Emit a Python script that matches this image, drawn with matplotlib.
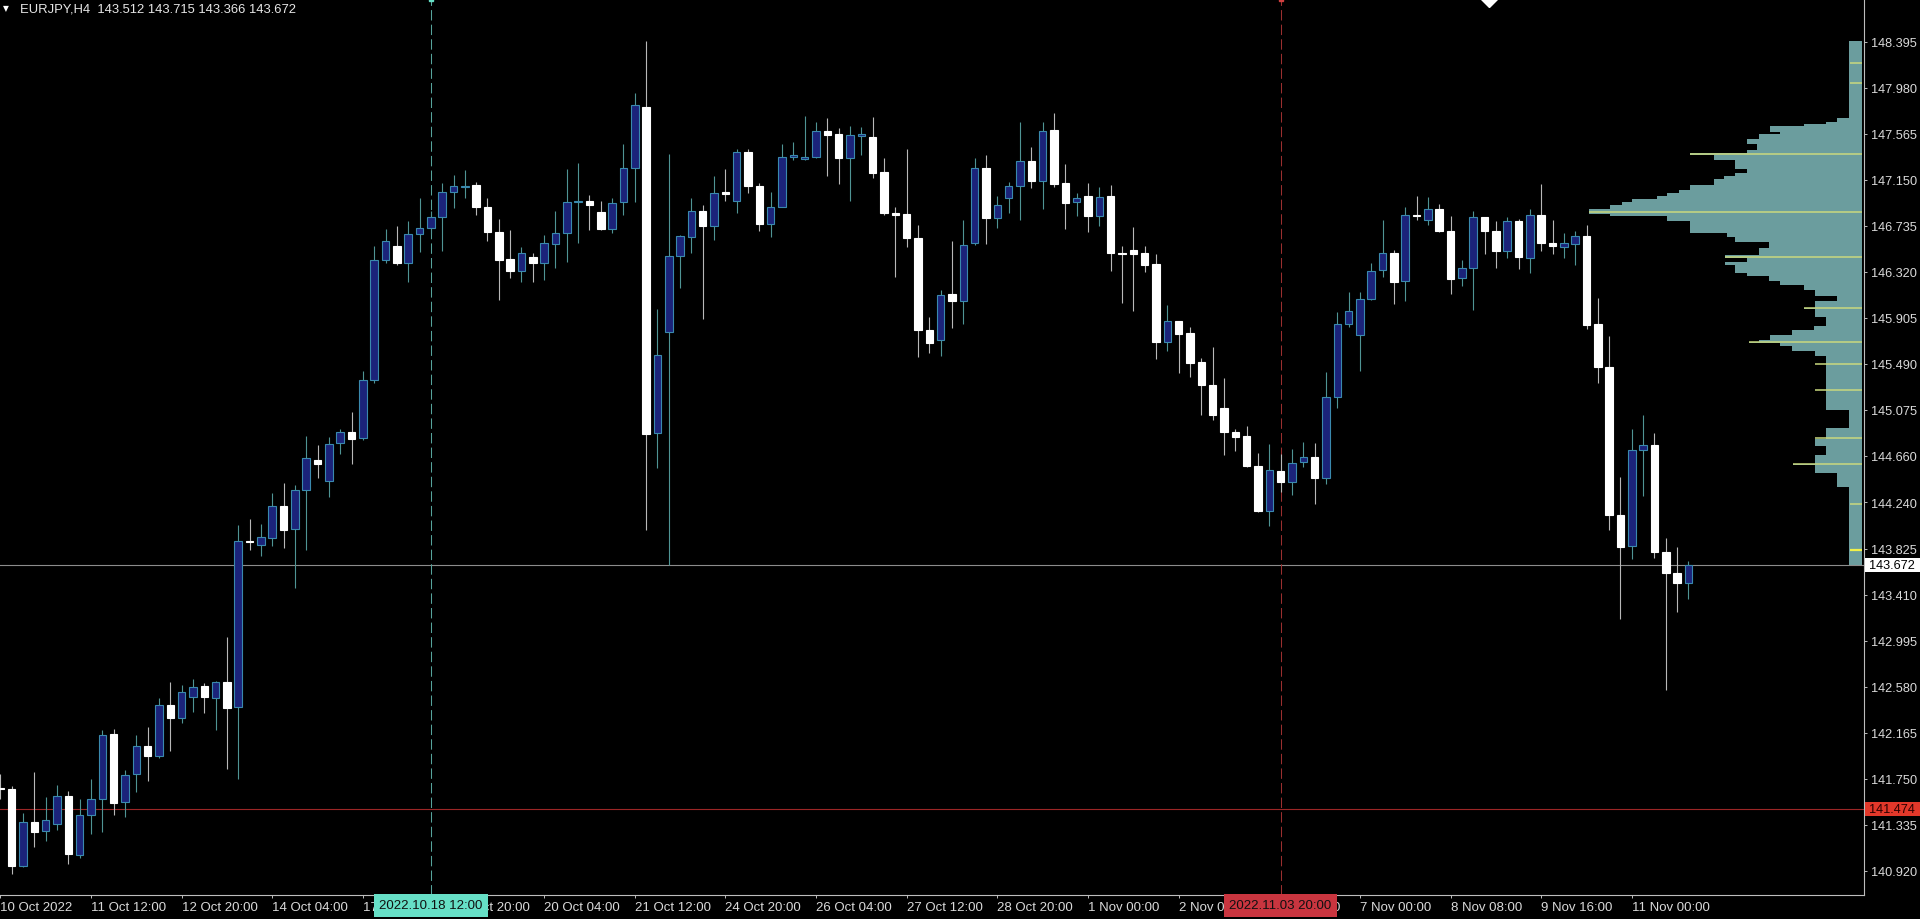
import matplotlib
matplotlib.use("Agg")
import matplotlib.pyplot as plt
import numpy as np
from matplotlib.patches import Rectangle
from matplotlib.transforms import blended_transform_factory

plt.rcParams['font.family'] = ['Liberation Sans', 'DejaVu Sans']

# ---------------- data ----------------
symbol = "EURJPY,H4"

opens = [141.67, 141.657, 140.965, 141.362, 141.275, 141.34, 141.59, 141.06, 141.42, 141.57,
         142.15, 141.54, 141.79, 142.04, 141.95, 142.41, 142.30, 142.49, 142.588, 142.48,
         142.625, 142.40, 143.89, 143.86, 143.92, 144.21, 144.00, 144.35, 144.623, 144.437,
         144.774, 144.873, 144.82, 145.345, 146.427, 146.55, 146.40, 146.66, 146.713, 146.817,
         147.037, 147.085, 147.103, 146.902, 146.676, 146.436, 146.325, 146.451, 146.397, 146.57,
         146.667, 146.947, 146.961, 146.857, 146.706, 146.951, 147.259, 147.808, 144.865, 145.776,
         146.465, 146.633, 146.868, 146.733, 147.044, 146.958, 147.403, 147.098, 146.747, 146.907,
         147.353, 147.336, 147.353, 147.594, 147.56, 147.349, 147.549, 147.537, 147.219, 146.848,
         146.84, 146.629, 145.796, 145.702, 146.121, 146.054, 146.583, 147.259, 146.807, 146.988,
         147.091, 147.322, 147.136, 147.599, 147.118, 146.947, 147.006, 146.821, 147.006, 146.494,
         146.517, 146.487, 146.39, 145.684, 145.879, 145.766, 145.504, 145.302, 145.089, 144.873,
         144.837, 144.567, 144.161, 144.521, 144.427, 144.602, 144.647, 144.461, 145.194, 145.85,
         145.753, 146.075, 146.336, 146.49, 146.235, 146.832, 146.79, 146.89, 146.691, 146.261,
         146.358, 146.81, 146.69, 146.507, 146.777, 146.444, 146.828, 146.578, 146.547, 146.575,
         146.641, 145.853, 145.466, 144.123, 143.849, 144.712, 144.758, 143.794, 143.60, 143.512]
highs = [141.79, 141.68, 141.44, 141.81, 141.58, 141.69, 141.64, 141.57, 141.75, 142.19,
         142.20, 141.83, 142.14, 142.22, 142.48, 142.62, 142.59, 142.65, 142.61, 142.63,
         143.03, 144.037, 144.09, 144.05, 144.33, 144.416, 144.40, 144.84, 144.76, 144.83,
         144.90, 145.06, 145.43, 146.55, 146.706, 146.73, 146.776, 146.99, 146.87, 147.118,
         147.193, 147.24, 147.127, 146.983, 146.80, 146.697, 146.541, 146.487, 146.652, 146.866,
         147.247, 147.30, 147.015, 146.956, 146.986, 147.47, 147.929, 148.40, 145.986, 147.383,
         146.656, 146.985, 146.924, 147.186, 147.249, 147.427, 147.427, 147.118, 147.041, 147.47,
         147.493, 147.728, 147.667, 147.704, 147.62, 147.634, 147.628, 147.712, 147.349, 146.901,
         147.427, 146.74, 145.91, 146.154, 146.60, 146.79, 147.349, 147.37, 147.008, 147.127,
         147.668, 147.448, 147.668, 147.752, 147.292, 147.028, 147.118, 147.082, 147.106, 146.556,
         146.727, 146.556, 146.48, 146.024, 145.88, 145.82, 145.54, 145.639, 145.36, 144.90,
         144.927, 144.686, 144.767, 144.677, 144.722, 144.788, 144.777, 145.414, 145.96, 146.135,
         146.135, 146.397, 146.79, 146.52, 146.907, 147.0, 146.992, 146.93, 146.823, 146.424,
         146.867, 146.817, 146.777, 146.818, 146.80, 146.884, 147.108, 146.79, 146.668, 146.686,
         146.738, 146.081, 145.743, 144.468, 144.906, 145.025, 144.864, 143.92, 143.835, 143.715]
lows = [141.57, 140.89, 140.95, 141.13, 141.19, 141.29, 140.98, 141.03, 141.25, 141.27,
        141.42, 141.40, 141.63, 141.73, 141.94, 141.995, 142.25, 142.35, 142.34, 142.19,
        141.84, 141.747, 143.815, 143.755, 143.85, 143.83, 143.466, 143.81, 144.46, 144.29,
        144.68, 144.59, 144.80, 145.315, 146.397, 146.384, 146.225, 146.50, 146.66, 146.51,
        146.893, 146.986, 146.835, 146.60, 146.066, 146.26, 146.23, 146.23, 146.246, 146.352,
        146.41, 146.577, 146.697, 146.697, 146.667, 146.834, 146.951, 143.995, 144.554, 143.677,
        146.178, 146.489, 145.896, 146.606, 146.958, 146.848, 147.035, 146.69, 146.63, 146.90,
        147.326, 147.326, 147.343, 147.186, 147.108, 146.958, 147.376, 147.169, 146.834, 146.271,
        146.546, 145.552, 145.585, 145.558, 145.813, 145.853, 146.566, 146.573, 146.713, 146.848,
        146.79, 147.076, 146.886, 147.082, 146.706, 146.821, 146.682, 146.73, 146.33, 146.036,
        145.964, 146.321, 145.534, 145.603, 145.408, 145.369, 145.029, 144.986, 144.668, 144.707,
        144.558, 144.152, 144.026, 144.337, 144.307, 144.558, 144.227, 144.407, 145.089, 145.82,
        145.429, 146.066, 146.27, 146.03, 146.054, 146.79, 146.742, 146.675, 146.118, 146.19,
        145.977, 146.477, 146.358, 146.441, 146.344, 146.312, 146.512, 146.485, 146.445, 146.384,
        145.804, 145.315, 143.988, 143.19, 143.727, 144.30, 143.737, 142.545, 143.255, 143.366]
closes = [141.66, 140.962, 141.356, 141.272, 141.38, 141.59, 141.07, 141.42, 141.57, 142.146,
          141.53, 141.78, 142.04, 141.95, 142.41, 142.30, 142.53, 142.58, 142.484, 142.625,
          142.39, 143.89, 143.885, 143.926, 144.206, 143.99, 144.35, 144.64, 144.587, 144.767,
          144.873, 144.81, 145.345, 146.427, 146.60, 146.40, 146.66, 146.713, 146.817, 147.037,
          147.09, 147.094, 146.90, 146.676, 146.43, 146.325, 146.487, 146.397, 146.577, 146.667,
          146.947, 146.956, 146.922, 146.706, 146.938, 147.259, 147.821, 144.858, 145.568, 146.465,
          146.639, 146.868, 146.733, 147.032, 147.026, 147.403, 147.092, 146.747, 146.907, 147.353,
          147.37, 147.353, 147.594, 147.554, 147.349, 147.55, 147.563, 147.209, 146.848, 146.83,
          146.623, 145.796, 145.675, 146.114, 146.054, 146.566, 147.259, 146.807, 146.924, 147.091,
          147.322, 147.136, 147.592, 147.112, 146.94, 146.988, 146.821, 146.997, 146.49, 146.485,
          146.481, 146.384, 145.684, 145.879, 145.759, 145.498, 145.30, 145.029, 144.878, 144.828,
          144.567, 144.161, 144.533, 144.422, 144.593, 144.647, 144.461, 145.189, 145.85, 145.964,
          146.075, 146.33, 146.49, 146.226, 146.835, 146.821, 146.886, 146.685, 146.258, 146.358,
          146.81, 146.684, 146.507, 146.774, 146.45, 146.834, 146.578, 146.557, 146.578, 146.641,
          145.839, 145.466, 144.123, 143.843, 144.712, 144.758, 143.794, 143.60, 143.512, 143.672]

x_tick_bars = [0, 8, 16, 24, 32, 40, 48, 56, 64, 72, 80, 88, 96, 104, 112, 120, 128, 136, 144]
x_tick_labels = ["10 Oct 2022", "11 Oct 12:00", "12 Oct 20:00", "14 Oct 04:00", "17 Oct 12:00",
                 "18 Oct 20:00", "20 Oct 04:00", "21 Oct 12:00", "24 Oct 20:00", "26 Oct 04:00",
                 "27 Oct 12:00", "28 Oct 20:00", "1 Nov 00:00", "2 Nov 08:00", "3 Nov 16:00",
                 "7 Nov 00:00", "8 Nov 08:00", "9 Nov 16:00", "11 Nov 00:00"]
y_tick_labels = ["148.395", "147.980", "147.565", "147.150", "146.735", "146.320", "145.905",
                 "145.490", "145.075", "144.660", "144.240", "143.825", "143.410", "142.995",
                 "142.580", "142.165", "141.750", "141.335", "140.920"]

# volume profile (price edges, top to bottom) and volume of each slice
vp_edges = [148.400, 147.705, 147.672, 147.656, 147.634, 147.585, 147.563, 147.521, 147.473, 147.421,
            147.389, 147.376, 147.328, 147.247, 147.215, 147.183, 147.157, 147.102, 147.061, 147.028,
            147.003, 146.980, 146.951, 146.919, 146.887, 146.845, 146.822, 146.780, 146.668, 146.635,
            146.587, 146.539, 146.474, 146.442, 146.410, 146.378, 146.313, 146.281, 146.233, 146.201,
            146.152, 146.104, 146.056, 145.998, 145.985, 145.911, 145.830, 145.798, 145.750, 145.701,
            145.689, 145.676, 145.653, 145.605, 145.557, 145.073, 144.912, 144.816, 144.751, 144.671,
            144.590, 144.574, 144.510, 144.381, 143.679]
vp_volume = [13, 25, 36, 58, 92, 82, 103, 115, 105, 115,
             172, 148, 127, 115, 127, 138, 148, 172, 183, 195,
             205, 230, 240, 252, 273, 252, 195, 172, 135, 127,
             93, 103, 137, 115, 137, 127, 115, 93, 82, 58,
             47, 25, 47, 58, 47, 36, 48, 70, 92, 103,
             113, 82, 70, 47, 36, 13, 36, 47, 36, 47,
             69, 47, 25, 13]
vp_line_prices = [148.207, 148.026, 147.382, 146.860, 146.454, 145.994, 145.687, 145.492,
                  145.257, 144.825, 144.586, 144.226]
vp_line_volume = [12, 12, 172, 273, 137, 58, 113, 47, 47, 47, 69, 12]
vp_mark_price = 143.815
vp_mark_volume = 12

alert_price = 141.474
cyan_bar, cyan_label = 38, "2022.10.18 12:00"
red_bar, red_label = 113, "2022.11.03 20:00"
top_marker_bar = 131.4

# ---------------- layout ----------------
W, H = 1920, 920
PLOT_R, PLOT_B = 1864, 896          # plot area right edge / bottom (px)
BAR_PX = 11.33                      # px per bar
PX_PER_PRICE = 110.9
TOP_PRICE = 148.395 + 42.7 / PX_PER_PRICE

fig = plt.figure(figsize=(W / 100, H / 100), dpi=100, facecolor='black')
ax = fig.add_axes([0, (H - PLOT_B) / H, PLOT_R / W, PLOT_B / H])
ax.set_facecolor('black')
ax.set_xlim(-0.3 / BAR_PX, (PLOT_R - 0.3) / BAR_PX)
ax.set_ylim(TOP_PRICE - PLOT_B / PX_PER_PRICE, TOP_PRICE)

axis_col = '#bdbdbd'
text_col = '#dadada'
FS = 9.2
FSX = 9.5

for s in ['top', 'left']:
    ax.spines[s].set_visible(False)
for s in ['right', 'bottom']:
    ax.spines[s].set_color(axis_col)
    ax.spines[s].set_linewidth(0.8)

ax.yaxis.tick_right()
ax.set_yticks([float(v) for v in y_tick_labels])
ax.set_yticklabels(y_tick_labels)
ax.tick_params(axis='y', colors=axis_col, labelcolor=text_col, labelsize=FS,
               length=2.2, width=0.7, pad=2.5)
ax.set_xticks(x_tick_bars)
ax.set_xticklabels(x_tick_labels)
for lbl in ax.get_xticklabels():
    lbl.set_horizontalalignment('left')
ax.tick_params(axis='x', colors=axis_col, labelcolor=text_col, labelsize=FSX,
               length=2.2, width=0.7, pad=2.3)

# horizontal reference lines
last_price = closes[-1]
ax.axhline(last_price, color='#8c8c8c', lw=0.8, zorder=1)
ax.axhline(alert_price, color='#9c2626', lw=0.8, zorder=1)

# vertical dashed lines
ax.axvline(cyan_bar, color='#56a39b', lw=0.75, ls=(0, (10, 4)), zorder=1)
ax.axvline(red_bar, color='#9a2f2f', lw=0.75, ls=(0, (10, 4)), zorder=1)

# ---------------- candles ----------------
o = np.array(opens); h = np.array(highs); l = np.array(lows); c = np.array(closes)
idx = np.arange(len(o))
bull = c >= o
wick_cols = np.where(bull, '#4f9494', '#b8b8b8')
ax.vlines(idx, l, h, colors=wick_cols, lw=0.8, zorder=2)

body_w = 0.66
bottoms = np.minimum(o, c)
heights = np.maximum(np.abs(c - o), 0.004)
ax.bar(idx[bull], heights[bull], bottom=bottoms[bull], width=body_w,
       color='#1b237a', edgecolor='#3a89ad', linewidth=0.8, zorder=3)
ax.bar(idx[~bull], heights[~bull], bottom=bottoms[~bull], width=body_w,
       color='#ffffff', edgecolor='#ffffff', linewidth=0.8, zorder=3)

# ---------------- volume profile ----------------
axv = fig.add_axes(ax.get_position().bounds)
axv.set_xlim(PLOT_R - 2, -2)
axv.set_ylim(ax.get_ylim())
axv.axis('off')
axv.patch.set_visible(False)
edges = np.array(vp_edges)
axv.barh(edges[1:], np.array(vp_volume), height=edges[:-1] - edges[1:], left=0,
         align='edge', color='#6b9d9e', linewidth=0)
axv.hlines(vp_line_prices, 0, vp_line_volume, colors='#c9d97e', lw=1.1)
axv.hlines([vp_mark_price], 0, [vp_mark_volume], colors='#f2f04a', lw=1.6)

# ---------------- labels / boxes ----------------
tr_fy = blended_transform_factory(fig.transFigure, ax.transData)
box_h = 14 / PX_PER_PRICE
ax.add_patch(Rectangle((1865 / W, last_price - box_h / 2), 55 / W, box_h,
                       transform=tr_fy, facecolor='white', edgecolor='none',
                       clip_on=False, zorder=10))
ax.text(1869 / W, last_price, f"{last_price:.3f}", transform=tr_fy, color='black',
        fontsize=FS, va='center', ha='left', zorder=11, clip_on=False)
ax.add_patch(Rectangle((1865 / W, alert_price - box_h / 2), 55 / W, box_h,
                       transform=tr_fy, facecolor='#e2382a', edgecolor='none',
                       clip_on=False, zorder=10))
ax.text(1869 / W, alert_price, f"{alert_price:.3f}", transform=tr_fy, color='#2a0000',
        fontsize=FS, va='center', ha='left', zorder=11, clip_on=False)

tr_xf = blended_transform_factory(ax.transData, fig.transFigure)
ax.text(cyan_bar, 1 - 906.5 / H, cyan_label, transform=tr_xf, color='#101010', fontsize=FSX,
        ha='center', va='center', zorder=12, clip_on=False,
        bbox=dict(boxstyle='square,pad=0.38', facecolor='#66dfc6', edgecolor='none'))
ax.text(red_bar, 1 - 906.5 / H, red_label, transform=tr_xf, color='#101010', fontsize=FSX,
        ha='center', va='center', zorder=12, clip_on=False,
        bbox=dict(boxstyle='square,pad=0.38', facecolor='#c9353f', edgecolor='none'))

# top markers
ax.plot([top_marker_bar], [TOP_PRICE], marker='D', ms=8, color='white', clip_on=True, zorder=5)
ax.plot([cyan_bar], [TOP_PRICE], marker='s', ms=3, color='#66dfc6', clip_on=True, zorder=5)
ax.plot([red_bar], [TOP_PRICE], marker='s', ms=3, color='#d04040', clip_on=True, zorder=5)

# title
fig.text(3 / W, 1 - 9 / H, '\u25BC', color='white', fontsize=5.5, va='center', ha='left',
         family=['DejaVu Sans'])
title = f"{symbol}  {opens[-1]:.3f} {highs[-1]:.3f} {lows[-1]:.3f} {closes[-1]:.3f}"
fig.text(20 / W, 1 - 10 / H, title, color='#e6e6e6', fontsize=9.4, va='center', ha='left')

fig.savefig('out.png', dpi=100, facecolor='black')
